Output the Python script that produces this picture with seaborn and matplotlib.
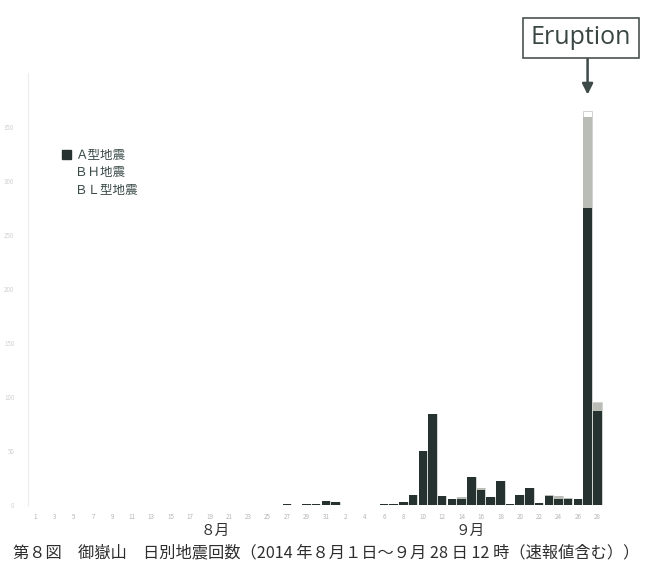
import matplotlib
matplotlib.use("Agg")
import matplotlib.pyplot as plt
from matplotlib.patches import Patch
import pandas as pd
import seaborn as sns

sns.set_theme(style="white")
plt.rcParams["font.family"] = ["Noto Sans CJK JP", "DejaVu Sans"]

# Days from 1 Aug to 28 Sep 2014
aug_days = list(range(1, 32))
sep_days = list(range(1, 29))
day_labels = [f"8/{d}" for d in aug_days] + [f"9/{d}" for d in sep_days]

# Daily counts by earthquake type
a_type = ([0] * 26 + [1, 0, 1, 1, 4] +
          [3, 0, 0, 0, 0, 1, 1, 3, 9, 50, 84, 8, 5, 5, 26, 14, 7, 22, 1, 9, 16, 2, 8, 5, 5, 5, 275, 87])
bh_type = ([0] * 31 +
           [0, 0, 0, 0, 0, 0, 0, 0, 0, 0, 0, 0, 0, 2, 0, 2, 0, 0, 0, 0, 0, 0, 1, 3, 1, 0, 84, 7])
bl_type = ([0] * 31 +
           [0, 0, 0, 0, 0, 0, 0, 0, 0, 0, 0, 0, 0, 0, 0, 0, 0, 0, 0, 0, 0, 0, 0, 0, 0, 0, 6, 1])

tick_text = [str(d) for d in aug_days] + [str(d) for d in sep_days]
y_ticks = [0, 50, 100, 150, 200, 250, 300, 350]
legend_labels = ["Ａ型地震", "ＢＨ地震", "ＢＬ型地震"]

df = pd.DataFrame({"day": day_labels, "A": a_type, "BH": bh_type, "BL": bl_type})
df["A_BH"] = df["A"] + df["BH"]
df["total"] = df["A_BH"] + df["BL"]

fig = plt.figure(figsize=(6.52, 5.66), dpi=100)
ax = fig.add_axes([0.043, 0.108, 0.882, 0.763])

dark = "#25322f"
light = "#b9bdb5"

sns.barplot(data=df, x="day", y="total", order=day_labels, color="white",
            edgecolor="#c8ccc6", linewidth=0.6, width=0.88, saturation=1, ax=ax)
sns.barplot(data=df, x="day", y="A_BH", order=day_labels, color=light,
            linewidth=0, width=0.88, saturation=1, ax=ax)
sns.barplot(data=df, x="day", y="A", order=day_labels, color=dark,
            linewidth=0, width=0.88, saturation=1, ax=ax)

ax.set_xlim(-0.72, 58.6)
ax.set_ylim(0, 400)
ax.set_xlabel("")
ax.set_ylabel("")

ax.set_xticks(range(0, len(day_labels), 2))
ax.set_xticklabels(tick_text[::2], fontsize=4.5, color="#b5b5b5")
ax.set_yticks(y_ticks)
ax.set_yticklabels([str(v) for v in y_ticks], fontsize=4.5, color="#d0d0d0")
ax.tick_params(axis="both", length=0, pad=6)
ax.tick_params(axis="y", pad=10)

for side in ["top", "right", "bottom"]:
    ax.spines[side].set_visible(False)
ax.spines["left"].set_color("#ececec")
ax.spines["left"].set_linewidth(0.8)

# Month labels below the day ticks
ax.text(18.6, -0.061, "８月", transform=ax.get_xaxis_transform(),
        ha="center", va="center", fontsize=10.5, color="#333333")
ax.text(44.9, -0.061, "９月", transform=ax.get_xaxis_transform(),
        ha="center", va="center", fontsize=10.5, color="#333333")

# Legend
handles = [Patch(facecolor=dark, edgecolor=dark),
           Patch(facecolor="white", edgecolor="white"),
           Patch(facecolor="white", edgecolor="white")]
leg = ax.legend(handles, legend_labels,
                loc="upper left", bbox_to_anchor=(0.04, 0.85), frameon=False,
                fontsize=9, handlelength=0.7, handleheight=0.7,
                handletextpad=0.3, labelspacing=0.35)
for t in leg.get_texts():
    t.set_color("#3a4a48")

# Eruption callout on 27 Sep
erupt_idx = day_labels.index("9/27")
fig.text(581 / 652, 1 - 38 / 566, "Eruption", ha="center", va="center",
         fontsize=18, color="#3a4644", family=["Open Sans", "DejaVu Sans"],
         bbox=dict(boxstyle="square,pad=0.3", facecolor="white",
                   edgecolor="#4a5452", linewidth=1.2))
ax.annotate("", xy=(erupt_idx, 380), xytext=(erupt_idx, 1 - 58 / 566),
            textcoords=("data", "figure fraction"), xycoords="data",
            arrowprops=dict(arrowstyle="-|>", color="#3e4a48", lw=1.8,
                            mutation_scale=16, shrinkA=0, shrinkB=0))

fig.text(0.5, 1 - 553 / 566,
         "第８図　御嶽山　日別地震回数（2014 年８月１日～９月 28 日 12 時（速報値含む））",
         ha="center", va="center", fontsize=11.7, color="#2e2e2e")

fig.savefig("out.png", dpi=100)
